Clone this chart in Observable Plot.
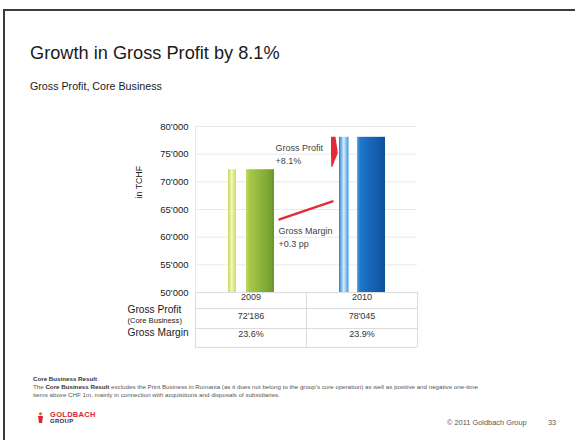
<!DOCTYPE html>
<html><head><meta charset="utf-8">
<script src="https://cdn.jsdelivr.net/npm/d3@7"></script>
<script src="https://cdn.jsdelivr.net/npm/@observablehq/plot@0.6"></script>
<style>
body{margin:0;background:#fff;}
#page{position:relative;width:575px;height:440px;overflow:hidden;background:#fff;font-family:"Liberation Sans",Arial,sans-serif;}
#frame{position:absolute;left:3px;top:9px;width:600px;height:460px;border-top:2px solid #3c3c3c;border-left:2px solid #3c3c3c;z-index:5;pointer-events:none;}
#title{position:absolute;left:30px;top:43px;font-size:18.2px;color:#1a1a1a;white-space:nowrap;}
#subtitle{position:absolute;left:30px;top:80px;font-size:10.7px;color:#1a1a1a;white-space:nowrap;}
#chart{position:absolute;left:0;top:110px;}
#note{position:absolute;left:33px;top:375px;font-size:6.2px;line-height:8px;color:#555;white-space:nowrap;}
#note b{color:#333;}
#logo{position:absolute;left:37px;top:410px;white-space:nowrap;}
#logo .icon{position:absolute;left:0;top:2px;width:7px;height:11px;}
#logo .l1{position:absolute;left:13px;top:0;font-size:7.5px;font-weight:bold;color:#d8262e;letter-spacing:0.3px;}
#logo .l2{position:absolute;left:13px;top:8px;font-size:6px;font-weight:bold;color:#2a2a4a;letter-spacing:0.3px;}
#copy{position:absolute;left:447px;top:418px;font-size:7.4px;color:#555;white-space:nowrap;}
#pnum{position:absolute;left:548px;top:418px;font-size:7.4px;color:#555;}
</style>
</head><body>
<div id="page">
  <div id="frame"></div>
  <div id="title">Growth in Gross Profit by 8.1%</div>
  <div id="subtitle">Gross Profit, Core Business</div>
  <div id="chart"></div>
  <div id="note"><b>Core Business Result</b><br>The <b>Core Business Result</b> excludes the Print Business in Romania (as it does not belong to the group's core operation) as well as positive and negative one-time<br>items above CHF 1m, mainly in connection with acquisitions and disposals of subsidiaries.</div>
  <div id="logo"><svg class="icon" viewBox="0 0 7 11"><circle cx="3.5" cy="1.8" r="1.6" fill="#e06a2a"/><path d="M1 4 L6 4 L5 11 L2 11 Z" fill="#d8262e"/></svg><span class="l1">GOLDBACH</span><span class="l2">GROUP</span></div>
  <div id="copy">© 2011 Goldbach Group</div>
  <div id="pnum">33</div>
</div>
<script>
// ---- data ----
const years = ["2009", "2010"];
const grossProfit = [72186, 78045];
const grossMargin = [23.6, 23.9];
const yTicks = [50000, 55000, 60000, 65000, 70000, 75000, 80000];
const rowLabels = ["Gross Profit", "(Core Business)", "Gross Margin"];
const profitNote = ["Gross Profit", "+8.1%"];
const marginNote = ["Gross Margin", "+0.3 pp"];
const marginArrowY = [63200, 66450]; // annotation arrow, in TCHF units

// ---- formatting ----
const chf = d3.formatLocale({decimal: ".", thousands: "'", grouping: [3], currency: ["", ""]}).format(",");
const pct = d => d.toFixed(1) + "%";

// ---- layout constants (px) ----
const colW = 111;
const u = px => px / colW; // pixel offset -> x units
const baseY = 50000;

function gradientDefs() {
  const ns = "http://www.w3.org/2000/svg";
  const defs = document.createElementNS(ns, "defs");
  const grads = {
    g09s: [[0, "#c6d951"], [0.45, "#f1f6c4"], [1, "#cadb5a"]],
    g09m: [[0, "#c4da62"], [0.12, "#a9c84c"], [0.5, "#8fb63c"], [0.85, "#79a331"], [1, "#6a942a"]],
    g10s: [[0, "#2a80d2"], [0.5, "#d6edfb"], [1, "#3b94de"]],
    g10m: [[0, "#58aceb"], [0.1, "#2279cc"], [0.45, "#1767b9"], [0.8, "#105aa7"], [1, "#0c4f97"]]
  };
  for (const [id, stops] of Object.entries(grads)) {
    const g = document.createElementNS(ns, "linearGradient");
    g.setAttribute("id", id);
    g.setAttribute("x1", "0"); g.setAttribute("x2", "1");
    g.setAttribute("y1", "0"); g.setAttribute("y2", "0");
    for (const [o, c] of stops) {
      const s = document.createElementNS(ns, "stop");
      s.setAttribute("offset", o);
      s.setAttribute("stop-color", c);
      g.appendChild(s);
    }
    defs.appendChild(g);
  }
  return defs;
}

const grid = "#e9e9e9";
const tableLine = "#dcdcdc";
const red = "#e4293a";

const barMarks = [];
years.forEach((yr, i) => {
  const c = i + 0.5;
  const pre = i === 0 ? "g09" : "g10";
  barMarks.push(Plot.rectY([grossProfit[i]], {
    x1: c + u(-22.5), x2: c + u(i === 0 ? -14.5 : -13), y1: baseY, y2: d => d, fill: `url(#${pre}s)`
  }));
  barMarks.push(Plot.rectY([grossProfit[i]], {
    x1: c + u(-4.5), x2: c + u(23.5), y1: baseY, y2: d => d, fill: `url(#${pre}m)`
  }));
});

// wedge between the two bar tops
const wL = 1.5 + u(-30.5);
const yMid = (grossProfit[0] + grossProfit[1]) / 2;
const wedge = [
  {y: grossProfit[1], x1: wL, x2: wL + u(4.5)},
  {y: yMid, x1: wL, x2: wL + u(6.8)},
  {y: grossProfit[0] + 400, x1: wL + u(0.3), x2: wL + u(1.2)}
];

const plot = Plot.plot({
  width: 575,
  height: 250,
  marginTop: 16,
  marginBottom: 68,
  marginLeft: 195,
  marginRight: 158,
  style: {background: "transparent", fontFamily: "Liberation Sans, Arial, sans-serif", fontSize: "9.5px", color: "#1a1a1a"},
  x: {domain: [0, 2], axis: null},
  y: {domain: [baseY, 80000], ticks: yTicks, tickFormat: chf, tickSize: 0, tickPadding: 7, label: null},
  marks: [
    gradientDefs,
    Plot.ruleY(yTicks.filter(d => d > baseY), {x1: 0, x2: 2, stroke: grid, strokeWidth: 1}),
    Plot.ruleX([0], {y1: baseY, y2: 80000, stroke: grid}),
    // table grid
    Plot.ruleX([0, 1, 2], {y1: baseY, y2: baseY, insetBottom: -55, stroke: tableLine}),
    Plot.ruleY([baseY], {x1: 0, x2: 2, stroke: tableLine}),
    Plot.ruleY([baseY], {x1: 0, x2: 2, dy: 16, stroke: tableLine}),
    Plot.ruleY([baseY], {x1: 0, x2: 2, dy: 36, stroke: tableLine}),
    Plot.ruleY([baseY], {x1: 0, x2: 2, dy: 55, stroke: tableLine}),
    ...barMarks,
    // annotations
    Plot.areaX(wedge, {y: "y", x1: "x1", x2: "x2", fill: red, curve: "linear"}),
    Plot.link([0], {
      x1: 0.5 + u(28.5), y1: marginArrowY[0], x2: 1.5 + u(-29.5), y2: marginArrowY[1],
      stroke: red, strokeWidth: 2.4, strokeLinecap: "round"
    }),
    Plot.text([profitNote.join("\n")], {
      x: 0.5 + u(24.5), y: yMid, textAnchor: "start", lineHeight: 1.4, fontSize: 9, fill: "#444"
    }),
    Plot.text([marginNote.join("\n")], {
      x: 0.5 + u(27.5), y: marginArrowY[0], dy: 6, lineAnchor: "top", textAnchor: "start", lineHeight: 1.4, fontSize: 9, fill: "#444"
    }),
    // y label
    Plot.text(["in TCHF"], {frameAnchor: "left", rotate: -90, dx: -56, dy: -11, fontSize: 8.8, fill: "#1a1a1a"}),
    // table text
    Plot.text(years, {x: (d, i) => i + 0.5, frameAnchor: "bottom", dy: 7, fontSize: 9, fill: "#333"}),
    Plot.text(grossProfit, {x: (d, i) => i + 0.5, text: d => chf(d), frameAnchor: "bottom", dy: 26, fontSize: 9, fill: "#333"}),
    Plot.text(grossMargin, {x: (d, i) => i + 0.5, text: d => pct(d), frameAnchor: "bottom", dy: 44.5, fontSize: 9, fill: "#333"}),
    Plot.text([rowLabels[0]], {frameAnchor: "bottom-left", dx: -68, dy: 20.5, textAnchor: "start", fontSize: 10.2, fill: "#1a1a1a"}),
    Plot.text([rowLabels[1]], {frameAnchor: "bottom-left", dx: -68, dy: 30.5, textAnchor: "start", fontSize: 7.6, fill: "#1a1a1a"}),
    Plot.text([rowLabels[2]], {frameAnchor: "bottom-left", dx: -68, dy: 43.5, textAnchor: "start", fontSize: 10.2, fill: "#1a1a1a"})
  ]
});
document.getElementById("chart").appendChild(plot);
</script>
</body></html>
